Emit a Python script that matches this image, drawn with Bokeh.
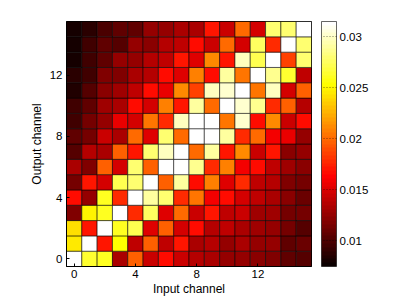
from bokeh.plotting import figure
from bokeh.models import (ColumnDataSource, LinearColorMapper, ColorBar, FixedTicker,
                          CustomJSTickFormatter)
from bokeh.embed import file_html
from bokeh.resources import INLINE

# ---------------- data ----------------
input_channels = list(range(16))
output_channels = list(range(16))

# one list per output channel (row), values across input channels 0..15
out_ch_0 = [0.0315, 0.0265, 0.0260, 0.0133, 0.0195, 0.0145, 0.0167, 0.0145, 0.0137, 0.0133, 0.0127, 0.0124, 0.0120, 0.0117, 0.0106, 0.0103]
out_ch_1 = [0.0245, 0.0315, 0.0172, 0.0255, 0.0140, 0.0198, 0.0140, 0.0172, 0.0133, 0.0137, 0.0127, 0.0133, 0.0124, 0.0124, 0.0106, 0.0110]
out_ch_2 = [0.0240, 0.0170, 0.0315, 0.0260, 0.0270, 0.0153, 0.0198, 0.0150, 0.0167, 0.0137, 0.0140, 0.0133, 0.0130, 0.0127, 0.0114, 0.0103]
out_ch_3 = [0.0117, 0.0250, 0.0260, 0.0315, 0.0180, 0.0275, 0.0153, 0.0200, 0.0145, 0.0170, 0.0140, 0.0145, 0.0130, 0.0130, 0.0114, 0.0114]
out_ch_4 = [0.0167, 0.0127, 0.0260, 0.0180, 0.0315, 0.0290, 0.0280, 0.0178, 0.0203, 0.0160, 0.0168, 0.0150, 0.0140, 0.0133, 0.0120, 0.0110]
out_ch_5 = [0.0114, 0.0172, 0.0150, 0.0270, 0.0280, 0.0315, 0.0198, 0.0290, 0.0165, 0.0207, 0.0153, 0.0178, 0.0140, 0.0137, 0.0117, 0.0114]
out_ch_6 = [0.0133, 0.0117, 0.0198, 0.0150, 0.0280, 0.0198, 0.0315, 0.0315, 0.0285, 0.0180, 0.0207, 0.0160, 0.0165, 0.0140, 0.0130, 0.0120]
out_ch_7 = [0.0103, 0.0137, 0.0133, 0.0198, 0.0172, 0.0280, 0.0300, 0.0315, 0.0200, 0.0290, 0.0170, 0.0213, 0.0145, 0.0170, 0.0120, 0.0127]
out_ch_8 = [0.0106, 0.0114, 0.0145, 0.0133, 0.0200, 0.0153, 0.0280, 0.0200, 0.0315, 0.0315, 0.0290, 0.0178, 0.0200, 0.0160, 0.0156, 0.0127]
out_ch_9 = [0.0097, 0.0114, 0.0127, 0.0156, 0.0150, 0.0203, 0.0178, 0.0300, 0.0315, 0.0315, 0.0203, 0.0302, 0.0167, 0.0213, 0.0145, 0.0165]
out_ch_10 = [0.0097, 0.0106, 0.0130, 0.0133, 0.0165, 0.0150, 0.0207, 0.0172, 0.0290, 0.0200, 0.0315, 0.0302, 0.0285, 0.0178, 0.0198, 0.0137]
out_ch_11 = [0.0086, 0.0103, 0.0120, 0.0130, 0.0140, 0.0167, 0.0156, 0.0210, 0.0185, 0.0300, 0.0302, 0.0315, 0.0203, 0.0300, 0.0150, 0.0198]
out_ch_12 = [0.0090, 0.0097, 0.0117, 0.0117, 0.0133, 0.0137, 0.0165, 0.0153, 0.0207, 0.0168, 0.0290, 0.0203, 0.0315, 0.0285, 0.0265, 0.0140]
out_ch_13 = [0.0082, 0.0097, 0.0106, 0.0124, 0.0127, 0.0137, 0.0140, 0.0170, 0.0153, 0.0210, 0.0170, 0.0300, 0.0270, 0.0315, 0.0185, 0.0280]
out_ch_14 = [0.0082, 0.0094, 0.0106, 0.0103, 0.0124, 0.0120, 0.0137, 0.0140, 0.0165, 0.0145, 0.0200, 0.0150, 0.0275, 0.0180, 0.0315, 0.0280]
out_ch_15 = [0.0080, 0.0090, 0.0100, 0.0105, 0.0106, 0.0124, 0.0127, 0.0133, 0.0133, 0.0170, 0.0145, 0.0200, 0.0150, 0.0280, 0.0280, 0.0315]

rows = [out_ch_0, out_ch_1, out_ch_2, out_ch_3, out_ch_4, out_ch_5, out_ch_6, out_ch_7,
        out_ch_8, out_ch_9, out_ch_10, out_ch_11, out_ch_12, out_ch_13, out_ch_14, out_ch_15]

axis_ticks = [0, 4, 8, 12]
colorbar_ticks = [0.01, 0.015, 0.02, 0.025, 0.03]
color_low = 0.0075
color_high = 0.0315

# ---------------- MATLAB "hot" colormap (64 steps) ----------------
def hot(m=64):
    n = (3 * m) // 8
    cols = []
    for i in range(m):
        r = min(1.0, (i + 1) / n)
        g = min(1.0, max(0.0, (i + 1 - n) / n))
        b = min(1.0, max(0.0, (i + 1 - 2 * n) / (m - 2 * n)))
        cols.append("#%02x%02x%02x" % (round(r * 255), round(g * 255), round(b * 255)))
    return cols

xs, ys, vs = [], [], []
for oc, row in zip(output_channels, rows):
    for ic, v in zip(input_channels, row):
        xs.append(ic)
        ys.append(oc)
        vs.append(v)
source = ColumnDataSource(dict(x=xs, y=ys, v=vs))

mapper = LinearColorMapper(palette=hot(64), low=color_low, high=color_high)

FONT = "Liberation Sans"

p = figure(output_backend="svg", toolbar_location=None,
           x_range=(-0.5, 15.5), y_range=(-0.5, 15.5),
           frame_width=245, frame_height=245,
           min_border_left=66, min_border_top=21, min_border_bottom=0, min_border_right=20,
           x_axis_label="Input channel", y_axis_label="Output channel")

p.rect(x="x", y="y", width=1, height=1, source=source,
       fill_color={"field": "v", "transform": mapper},
       line_color="black", line_alpha=0.55, line_width=1)

p.grid.visible = False
p.outline_line_color = "black"
p.outline_line_width = 1
p.background_fill_color = "white"

for ax in (p.xaxis[0], p.yaxis[0]):
    ax.ticker = FixedTicker(ticks=axis_ticks)
    ax.minor_tick_line_color = None
    ax.major_tick_in = 3
    ax.major_tick_out = 0
    ax.major_tick_line_color = "black"
    ax.axis_line_color = "black"
    ax.major_label_text_font = FONT
    ax.major_label_text_font_size = "11.5px"
    ax.major_label_text_color = "black"
    ax.axis_label_text_font = FONT
    ax.axis_label_text_font_size = "12px"
    ax.axis_label_text_font_style = "normal"
    ax.axis_label_text_color = "black"

p.xaxis[0].major_label_standoff = 3
p.xaxis[0].axis_label_standoff = 1
p.yaxis[0].major_label_standoff = 4
p.yaxis[0].axis_label_standoff = 3

cb = ColorBar(color_mapper=mapper, width=15, height=245, padding=0, location=(10, 0),
              ticker=FixedTicker(ticks=colorbar_ticks),
              formatter=CustomJSTickFormatter(code="return (Math.round(tick*1000)/1000).toString();"),
              major_tick_in=15, major_tick_out=0,
              major_tick_line_color="black", major_tick_line_alpha=0.5,
              major_tick_line_dash="1 2",
              minor_tick_line_color=None,
              bar_line_color="black", bar_line_alpha=0.6,
              label_standoff=3,
              major_label_text_font=FONT, major_label_text_font_size="11.5px",
              major_label_text_color="black")
p.add_layout(cb, "right")

open("out.html", "w").write(file_html(p, INLINE))
